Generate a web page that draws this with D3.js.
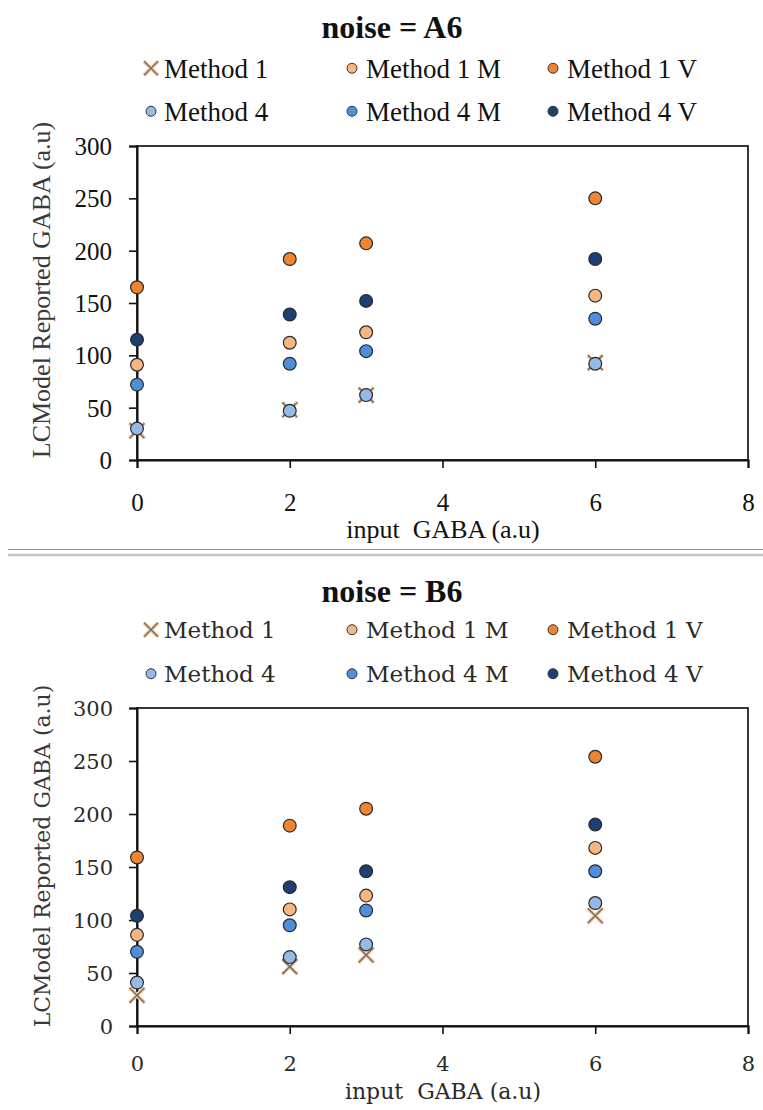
<!DOCTYPE html>
<html>
<head>
<meta charset="utf-8">
<script src="https://cdn.jsdelivr.net/npm/d3@7/dist/d3.min.js"></script>
<style>
  html, body { margin: 0; padding: 0; background: #fff; }
  svg { display: block; }
</style>
</head>
<body>
<svg id="chart" width="763" height="1110"></svg>
<script>
// ---- data -------------------------------------------------------------
const inputGaba = [0, 2, 3, 6];
const seriesNames = ["Method 1", "Method 1 M", "Method 1 V", "Method 4", "Method 4 M", "Method 4 V"];
const xTicks = [0, 2, 4, 6, 8];
const yTicks = [0, 50, 100, 150, 200, 250, 300];

// noise = A6
const a6Method1  = [28, 48, 62, 93];
const a6Method1M = [91, 112, 122, 157];
const a6Method1V = [165, 192, 207, 250];
const a6Method4  = [30, 47, 62, 92];
const a6Method4M = [72, 92, 104, 135];
const a6Method4V = [115, 139, 152, 192];

// noise = B6
const b6Method1  = [29, 56, 67, 104];
const b6Method1M = [86, 110, 123, 168];
const b6Method1V = [159, 189, 205, 254];
const b6Method4  = [41, 65, 77, 116];
const b6Method4M = [70, 95, 109, 146];
const b6Method4V = [104, 131, 146, 190];

// ---- styles -----------------------------------------------------------
const seriesStyle = {
  "Method 1":   { cross: true },
  "Method 1 M": { fill: "#f6b783" },
  "Method 1 V": { fill: "#ee8533" },
  "Method 4":   { fill: "#93bbe6" },
  "Method 4 M": { fill: "#4e8fdb" },
  "Method 4 V": { fill: "#1d3f73" }
};

const svg = d3.select("#chart");

function drawCross(g, cx, cy, h) {
  const p = `M${cx - h},${cy - h}L${cx + h},${cy + h}M${cx - h},${cy + h}L${cx + h},${cy - h}`;
  g.append("path").attr("d", p).attr("stroke", "#f7d2ad").attr("stroke-width", 4).attr("fill", "none");
  g.append("path").attr("d", p).attr("stroke", "#7a6e66").attr("stroke-width", 1.6).attr("fill", "none");
}

function drawPanel(cfg) {
  const g = svg.append("g");
  const x = d3.scaleLinear().domain([0, 8]).range([137, 748]);
  const y = d3.scaleLinear().domain([0, 300]).range([cfg.y0, cfg.y300]);

  // title
  g.append("text")
    .attr("x", 392).attr("y", cfg.titleY)
    .attr("text-anchor", "middle")
    .attr("font-family", "'Liberation Serif', 'Times New Roman', serif")
    .attr("font-weight", "bold")
    .attr("font-size", 32)
    .attr("fill", "#111")
    .text(cfg.title);

  // legend
  const legX = [{ m: 151, t: 164 }, { m: 352, t: 366 }, { m: 553, t: 567 }];
  seriesNames.forEach((name, i) => {
    const row = Math.floor(i / 3), col = i % 3;
    const by = cfg.legendBase[row];
    const my = by - cfg.legendFont * 0.36;
    const st = seriesStyle[name];
    if (st.cross) {
      drawCross(g, legX[col].m, my, 7);
    } else {
      g.append("circle").attr("cx", legX[col].m).attr("cy", my).attr("r", 5)
        .attr("fill", st.fill).attr("stroke", "#333").attr("stroke-width", 1);
    }
    g.append("text")
      .attr("x", legX[col].t).attr("y", by)
      .attr("font-family", cfg.font)
      .attr("font-size", cfg.legendFont)
      .attr("fill", cfg.textColor)
      .text(name);
  });

  // frame
  g.append("rect")
    .attr("x", x(0)).attr("y", y(300))
    .attr("width", x(8) - x(0)).attr("height", y(0) - y(300))
    .attr("fill", "none").attr("stroke", "#222").attr("stroke-width", 1.8);

  // axes
  const xAxis = d3.axisBottom(x).tickValues(xTicks).tickSize(8).tickPadding(cfg.xTickPad).tickFormat(d3.format("d"));
  const yAxis = d3.axisLeft(y).tickValues(yTicks).tickSize(8).tickPadding(cfg.yTickPad).tickFormat(d3.format("d"));

  const gx = g.append("g").attr("transform", `translate(0,${y(0)})`).call(xAxis);
  const gy = g.append("g").attr("transform", `translate(${x(0)},0)`).call(yAxis);
  [gx, gy].forEach(ax => {
    ax.select(".domain").attr("stroke", "#111").attr("stroke-width", 2);
    ax.selectAll(".tick line").attr("stroke", "#111").attr("stroke-width", 1.6);
    ax.selectAll(".tick text")
      .attr("font-family", cfg.font)
      .attr("font-size", cfg.tickFont)
      .attr("fill", cfg.textColor);
  });
  gy.selectAll(".tick text").attr("dy", "0.34em");

  // axis titles
  g.append("text")
    .attr("x", 443).attr("y", cfg.xTitleY)
    .attr("text-anchor", "middle")
    .attr("font-family", cfg.font)
    .attr("font-size", cfg.axisTitleFont)
    .attr("fill", cfg.textColor)
    .attr("xml:space", "preserve")
    .style("white-space", "pre")
    .text("input  GABA (a.u)");

  g.append("text")
    .attr("transform", `translate(${cfg.yTitleX},${cfg.yTitleY}) rotate(-90)`)
    .attr("text-anchor", "middle")
    .attr("font-family", cfg.font)
    .attr("font-size", cfg.axisTitleFont)
    .attr("fill", "#3a3a3a")
    .text("LCModel Reported GABA (a.u)");

  // points
  seriesNames.forEach((name, i) => {
    const vals = cfg.values[i];
    const st = seriesStyle[name];
    vals.forEach((v, j) => {
      const cx = x(inputGaba[j]), cy = y(v);
      if (st.cross) {
        drawCross(g, cx, cy, 7.5);
      } else {
        g.append("circle").attr("cx", cx).attr("cy", cy).attr("r", 6.4)
          .attr("fill", st.fill).attr("stroke", "#2a2a2a").attr("stroke-width", 1.2);
      }
    });
  });
}

drawPanel({
  title: "noise = A6",
  titleY: 38,
  legendBase: [78, 121],
  legendFont: 27,
  font: "'Liberation Serif', 'Times New Roman', serif",
  textColor: "#111",
  tickFont: 25,
  axisTitleFont: 26,
  xTickPad: 25,
  yTickPad: 17,
  xTitleY: 538,
  yTitleX: 50,
  yTitleY: 290,
  y0: 460, y300: 146,
  values: [a6Method1, a6Method1M, a6Method1V, a6Method4, a6Method4M, a6Method4V]
});

// separator between the two panels
svg.append("line").attr("x1", 8).attr("x2", 763).attr("y1", 549.5).attr("y2", 549.5)
  .attr("stroke", "#8e8e8e").attr("stroke-width", 1);
svg.append("line").attr("x1", 8).attr("x2", 763).attr("y1", 555).attr("y2", 555)
  .attr("stroke", "#c4c4c4").attr("stroke-width", 2.5);

drawPanel({
  title: "noise = B6",
  titleY: 602,
  legendBase: [638, 682],
  legendFont: 23,
  font: "'DejaVu Serif', serif",
  textColor: "#2a2a2a",
  tickFont: 21,
  axisTitleFont: 22,
  xTickPad: 22,
  yTickPad: 16,
  xTitleY: 1099,
  yTitleX: 50,
  yTitleY: 856,
  y0: 1026, y300: 708,
  values: [b6Method1, b6Method1M, b6Method1V, b6Method4, b6Method4M, b6Method4V]
});
</script>
</body>
</html>
